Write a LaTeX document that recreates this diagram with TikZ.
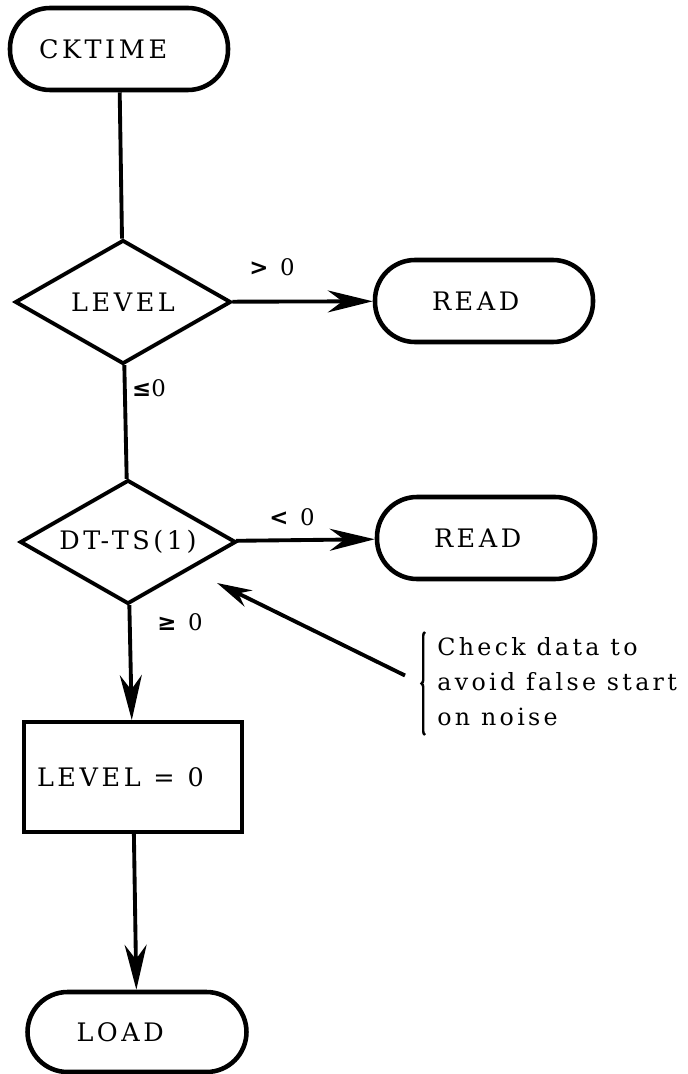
\documentclass[tikz,border=0pt]{standalone}
\usepackage{fontspec}
\setmainfont{DejaVu Serif}[LetterSpace=14]
\newfontfamily\symfont{DejaVu Sans}
\usetikzlibrary{shapes,arrows.meta,positioning,calc,decorations.pathreplacing}

\begin{document}
\begin{tikzpicture}[x=0.02cm, y=-0.02cm, font=\fontsize{14.5}{17}\selectfont]
        % Define styles
        \tikzstyle{term} = [rectangle, draw, line width=2.6pt, rounded corners=0.8cm,
            minimum height=1.64cm, align=left, inner ysep=0pt]
        \tikzstyle{decision} = [diamond, draw, line width=2.2pt, aspect=1.75,
            inner sep=0pt, minimum width=4.32cm, minimum height=2.48cm]
        \tikzstyle{block} = [rectangle, draw, line width=2.2pt, minimum height=2.2cm, align=left]
        \tikzstyle{line} = [line width=2.2pt]
        \tikzstyle{arrow} = [line width=2.2pt, -{Stealth[length=0.9cm, width=0.44cm]}]
        \tikzstyle{cond} = [inner sep=0pt, font=\fontsize{13}{15}\selectfont]
        \tikzstyle{note} = [align=left, inner sep=0pt, font=\fontsize{13.5}{19.9}\selectfont]

        \useasboundingbox (0,0) rectangle (687,1074);

        % Nodes
        \node [term, text width=3.2cm, inner xsep=0.58cm] (cktime) at (119,49) {CKTIME};
        \node [decision] (level) at (123,302) {LEVEL};
        \node [term, text width=2.08cm, inner xsep=1.14cm] (read1) at (484,301) {READ};
        \node [decision] (dtts) at (128,542) {DT-TS(1)};
        \node [term, text width=2.08cm, inner xsep=1.14cm] (read2) at (486,538) {READ};
        \node [block, text width=3.84cm, inner xsep=0.26cm] (zero) at (133,777)
            {LEVEL\hspace{0.5em}=\hspace{0.5em}0};
        \node [term, text width=2.42cm, inner xsep=0.98cm, minimum height=1.6cm] (load) at (137,1032) {LOAD};

        % Conditions
        \node [cond] (gt) at (272,267) {{\symfont\bfseries >}\hspace{0.5em}0};
        \node [cond] (le) at (149,388) {{\symfont\bfseries ≤}0};
        \node [cond] (lt) at (292,517) {{\symfont\bfseries <}\hspace{0.5em}0};
        \node [cond] (ge) at (180,622) {{\symfont\bfseries ≥}\hspace{0.5em}0};

        % Remark
        \node [note, anchor=north west] (note) at (437,637) {Check data to\\avoid false start\\on noise};
        \draw [line width=1.4pt, decorate, decoration={brace, amplitude=2pt}]
            ($(note.south west)+(-12,9)$) -- ($(note.north west)+(-12,-5)$);
        \coordinate (ptr) at ($(note.west)+(-32,-6)$);
        \coordinate (aim) at (217,583);

        % Arrows
        \draw [line] (cktime) -- (level);
        \draw [arrow] (level) -- (read1);
        \draw [line] (level) -- (dtts);
        \draw [arrow] (dtts) -- (read2);
        \draw [arrow] (dtts) -- (zero);
        \draw [arrow] (zero) -- (load);
        \draw [arrow, -{Stealth[length=0.7cm, width=0.36cm]}] (ptr) -- (aim);

    \end{tikzpicture}
\end{document}
